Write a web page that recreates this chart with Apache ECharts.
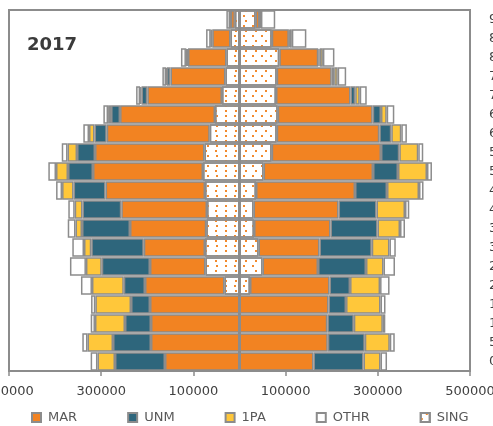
<!DOCTYPE html>
<html>
<head>
<meta charset="utf-8">
<script src="https://cdn.jsdelivr.net/npm/echarts@6/dist/echarts.min.js"></script>
<style>html,body{margin:0;padding:0;background:#fff;}#c{width:493px;height:426px;}</style>
</head>
<body>
<div id="c"></div>
<script>
// Age groups, bottom to top
var ages = ['0','5','10','15','20','25','30','35','40','45','50','55','60','65','70','75','80','85','90'];
var xTicks = [-500000, -300000, -100000, 100000, 300000, 500000];

// Left side (plotted as negative)
var singL = [0,0,0,0,32500,73800,74800,72000,70500,74800,79200,75900,64600,53100,38000,30400,28200,19500,10000];
var marL  = [161600,192000,192000,194100,172500,120400,132800,165500,185900,215800,238600,237500,223400,206000,162000,119300,83500,39500,9000];
var unmL  = [108500,82400,56400,41200,46000,104600,113900,104100,84200,69400,54200,39000,26500,19500,12600,7600,3000,2000,1000];
var onePaL= [38000,55300,65100,77400,69000,34300,15800,14100,16900,24900,26000,20600,11900,6500,3000,2000,1500,1500,500];
var othrL = [14800,11300,9300,9300,23900,34700,25400,16900,13900,13000,16700,12600,12400,10200,8700,8000,10800,10000,8000];

// Right side
var singR = [0,0,0,0,22800,49900,41200,31500,30400,35800,52100,69800,80700,82900,79200,80700,86300,70000,35000];
var marR  = [160500,191500,190500,193100,172500,120400,132300,165900,184400,214800,237500,237100,222600,206000,161600,119300,84600,37000,8500];
var unmR  = [108500,80300,57500,38000,44500,104100,113400,102000,82400,69400,54200,39700,26000,18000,10200,5400,3000,1500,1000];
var onePaR= [36900,54200,62900,74800,65100,38000,38400,48800,61800,69400,62900,41200,21700,12400,9800,7600,7000,5000,2000];
var othrR = [14100,10800,5400,10800,20600,24900,13700,10800,9300,9800,10800,10800,12100,16500,15200,18400,25000,31500,31000];

var FONT = 'DejaVu Sans';
var BORDER = '#8c8c8c';
var dotDecal = {symbol:'rect', symbolSize:1, color:'#f28a2e',
                dashArrayX:[[2,6.5],[0,4.25,2,2.25]], dashArrayY:[2,3], rotation:0};
var styles = {
  'MAR':  {color:'#f28322', borderColor:BORDER, borderWidth:1.5},
  'UNM':  {color:'#2e667c', borderColor:BORDER, borderWidth:1.5},
  '1PA':  {color:'#ffc73a', borderColor:BORDER, borderWidth:1.5},
  'OTHR': {color:'#ffffff', borderColor:BORDER, borderWidth:1.5},
  'SING': {color:'#ffffff', borderColor:BORDER, borderWidth:1.5, decal:dotDecal}
};
function neg(a){ return a.map(function(v){ return -v; }); }
function mk(name, stack, data){
  return {name:name, type:'bar', stack:stack, data:data, barGap:'-100%', barCategoryGap:'3%',
          itemStyle:styles[name], emphasis:{disabled:true}, animation:false};
}
var series = [
  mk('SING','L',neg(singL)), mk('MAR','L',neg(marL)), mk('UNM','L',neg(unmL)), mk('1PA','L',neg(onePaL)), mk('OTHR','L',neg(othrL)),
  mk('SING','R',singR), mk('MAR','R',marR), mk('UNM','R',unmR), mk('1PA','R',onePaR), mk('OTHR','R',othrR)
];
series[series.length-1].markLine = {
  silent:true, symbol:'none', label:{show:false},
  lineStyle:{color:BORDER, width:3, type:'solid'},
  data:[{xAxis:0}], animation:false
};

var chart = echarts.init(document.getElementById('c'), null, {renderer:'canvas'});
chart.setOption({
  animation:false,
  textStyle:{fontFamily:FONT},
  title:{text:'2017', left:27, top:36, padding:[0,0,0,0],
         textStyle:{fontFamily:FONT, fontSize:18, fontWeight:'bold', color:'#3b3b3b'}},
  grid:{left:9, right:23, top:10, bottom:55, containLabel:false, outerBoundsMode:'none',
        show:true, borderColor:BORDER, borderWidth:2, backgroundColor:'#fff'},
  legend:{
    data:[{name:'MAR'},{name:'UNM'},{name:'1PA'},{name:'OTHR'},{name:'SING', itemStyle:{decal:dotDecal}}],
    left:26, top:406, itemWidth:9, itemHeight:9, itemGap:50,
    icon:'rect', selectedMode:false,
    textStyle:{fontFamily:FONT, fontSize:13, color:'#595959', padding:[0,0,0,2]}
  },
  xAxis:{
    type:'value', min:xTicks[0], max:xTicks[xTicks.length-1], interval:xTicks[1]-xTicks[0],
    axisLine:{show:true, lineStyle:{color:BORDER, width:2}},
    axisTick:{show:true, length:5, lineStyle:{color:BORDER, width:1.5}},
    splitLine:{show:false},
    axisLabel:{fontFamily:FONT, fontSize:13, color:'#404040', margin:14, hideOverlap:false,
               showMinLabel:true, showMaxLabel:true,
               formatter:function(v){ return String(Math.abs(v)); }}
  },
  yAxis:{
    type:'category', data:ages, position:'right',
    axisLine:{show:false}, axisTick:{show:false}, splitLine:{show:false},
    axisLabel:{fontFamily:FONT, fontSize:13, color:'#404040', margin:19}
  },
  series:series
});
</script>
</body>
</html>
